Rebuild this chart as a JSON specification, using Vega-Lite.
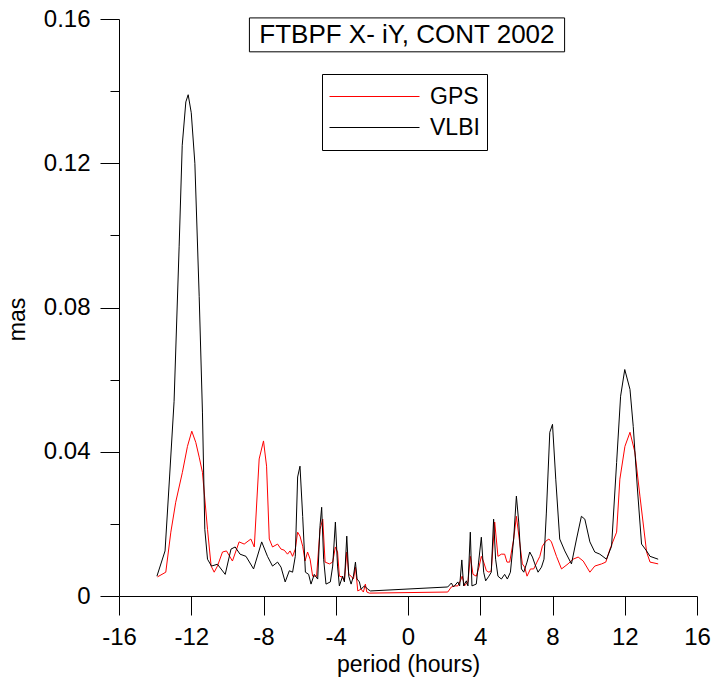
{
  "$schema": "https://vega.github.io/schema/vega-lite/v6.json",
  "autosize": "none",
  "width": 578,
  "height": 577,
  "padding": {"left": 119, "top": 19, "right": 19, "bottom": 88},
  "background": "white",
  "config": {
    "view": {"stroke": null},
    "font": "Liberation Sans",
    "axis": {
      "grid": false,
      "domainColor": "black",
      "domainWidth": 1,
      "tickColor": "black",
      "tickWidth": 1,
      "labelFont": "Liberation Sans",
      "labelFontSize": 24,
      "labelColor": "black",
      "titleFont": "Liberation Sans",
      "titleFontSize": 23,
      "titleFontWeight": "normal",
      "titleColor": "black"
    }
  },
  "datasets": {
    "series": [
      {"p": -13.87, "v": 0.0053, "s": "GPS"},
      {"p": -13.41, "v": 0.0066, "s": "GPS"},
      {"p": -13.13, "v": 0.0177, "s": "GPS"},
      {"p": -12.86, "v": 0.026, "s": "GPS"},
      {"p": -12.49, "v": 0.0343, "s": "GPS"},
      {"p": -12.21, "v": 0.0415, "s": "GPS"},
      {"p": -11.97, "v": 0.0457, "s": "GPS"},
      {"p": -11.75, "v": 0.0426, "s": "GPS"},
      {"p": -11.56, "v": 0.0385, "s": "GPS"},
      {"p": -11.38, "v": 0.0343, "s": "GPS"},
      {"p": -11.1, "v": 0.0185, "s": "GPS"},
      {"p": -10.9, "v": 0.0083, "s": "GPS"},
      {"p": -10.73, "v": 0.0066, "s": "GPS"},
      {"p": -10.55, "v": 0.0083, "s": "GPS"},
      {"p": -10.27, "v": 0.0122, "s": "GPS"},
      {"p": -10.05, "v": 0.0125, "s": "GPS"},
      {"p": -9.72, "v": 0.0097, "s": "GPS"},
      {"p": -9.35, "v": 0.015, "s": "GPS"},
      {"p": -9.07, "v": 0.0144, "s": "GPS"},
      {"p": -8.7, "v": 0.0158, "s": "GPS"},
      {"p": -8.51, "v": 0.0136, "s": "GPS"},
      {"p": -8.24, "v": 0.038, "s": "GPS"},
      {"p": -8.0, "v": 0.043, "s": "GPS"},
      {"p": -7.83, "v": 0.036, "s": "GPS"},
      {"p": -7.68, "v": 0.0158, "s": "GPS"},
      {"p": -7.5, "v": 0.0136, "s": "GPS"},
      {"p": -7.22, "v": 0.0144, "s": "GPS"},
      {"p": -7.03, "v": 0.013, "s": "GPS"},
      {"p": -6.85, "v": 0.0127, "s": "GPS"},
      {"p": -6.67, "v": 0.0116, "s": "GPS"},
      {"p": -6.53, "v": 0.0125, "s": "GPS"},
      {"p": -6.39, "v": 0.011, "s": "GPS"},
      {"p": -6.24, "v": 0.013, "s": "GPS"},
      {"p": -6.11, "v": 0.0177, "s": "GPS"},
      {"p": -5.98, "v": 0.0166, "s": "GPS"},
      {"p": -5.83, "v": 0.0138, "s": "GPS"},
      {"p": -5.7, "v": 0.0097, "s": "GPS"},
      {"p": -5.56, "v": 0.0122, "s": "GPS"},
      {"p": -5.42, "v": 0.0102, "s": "GPS"},
      {"p": -5.28, "v": 0.0055, "s": "GPS"},
      {"p": -5.06, "v": 0.0055, "s": "GPS"},
      {"p": -4.87, "v": 0.0185, "s": "GPS"},
      {"p": -4.72, "v": 0.0213, "s": "GPS"},
      {"p": -4.59, "v": 0.0094, "s": "GPS"},
      {"p": -4.35, "v": 0.0089, "s": "GPS"},
      {"p": -4.17, "v": 0.0094, "s": "GPS"},
      {"p": -4.02, "v": 0.0136, "s": "GPS"},
      {"p": -3.9, "v": 0.0122, "s": "GPS"},
      {"p": -3.8, "v": 0.0055, "s": "GPS"},
      {"p": -3.65, "v": 0.0053, "s": "GPS"},
      {"p": -3.52, "v": 0.0042, "s": "GPS"},
      {"p": -3.39, "v": 0.0122, "s": "GPS"},
      {"p": -3.28, "v": 0.006, "s": "GPS"},
      {"p": -3.15, "v": 0.0055, "s": "GPS"},
      {"p": -3.02, "v": 0.0047, "s": "GPS"},
      {"p": -2.91, "v": 0.008, "s": "GPS"},
      {"p": -2.78, "v": 0.0014, "s": "GPS"},
      {"p": -2.6, "v": 0.0019, "s": "GPS"},
      {"p": -2.47, "v": 0.0011, "s": "GPS"},
      {"p": -2.36, "v": 0.0033, "s": "GPS"},
      {"p": -2.28, "v": 0.0011, "s": "GPS"},
      {"p": -2.14, "v": 0.0008, "s": "GPS"},
      {"p": 2.2, "v": 0.0011, "s": "GPS"},
      {"p": 2.4, "v": 0.0025, "s": "GPS"},
      {"p": 2.58, "v": 0.0028, "s": "GPS"},
      {"p": 2.76, "v": 0.0028, "s": "GPS"},
      {"p": 2.9, "v": 0.0042, "s": "GPS"},
      {"p": 3.0, "v": 0.0055, "s": "GPS"},
      {"p": 3.13, "v": 0.0028, "s": "GPS"},
      {"p": 3.32, "v": 0.0039, "s": "GPS"},
      {"p": 3.45, "v": 0.011, "s": "GPS"},
      {"p": 3.6, "v": 0.006, "s": "GPS"},
      {"p": 3.78, "v": 0.0055, "s": "GPS"},
      {"p": 3.93, "v": 0.008, "s": "GPS"},
      {"p": 4.06, "v": 0.011, "s": "GPS"},
      {"p": 4.19, "v": 0.0094, "s": "GPS"},
      {"p": 4.34, "v": 0.007, "s": "GPS"},
      {"p": 4.48, "v": 0.0066, "s": "GPS"},
      {"p": 4.61, "v": 0.007, "s": "GPS"},
      {"p": 4.8, "v": 0.0205, "s": "GPS"},
      {"p": 4.98, "v": 0.011, "s": "GPS"},
      {"p": 5.17, "v": 0.0116, "s": "GPS"},
      {"p": 5.35, "v": 0.0116, "s": "GPS"},
      {"p": 5.48, "v": 0.0094, "s": "GPS"},
      {"p": 5.63, "v": 0.0094, "s": "GPS"},
      {"p": 5.85, "v": 0.0158, "s": "GPS"},
      {"p": 6.0, "v": 0.0221, "s": "GPS"},
      {"p": 6.18, "v": 0.015, "s": "GPS"},
      {"p": 6.33, "v": 0.0089, "s": "GPS"},
      {"p": 6.46, "v": 0.008, "s": "GPS"},
      {"p": 6.59, "v": 0.0055, "s": "GPS"},
      {"p": 6.78, "v": 0.0075, "s": "GPS"},
      {"p": 6.96, "v": 0.0075, "s": "GPS"},
      {"p": 7.14, "v": 0.0094, "s": "GPS"},
      {"p": 7.3, "v": 0.011, "s": "GPS"},
      {"p": 7.44, "v": 0.0138, "s": "GPS"},
      {"p": 7.63, "v": 0.0152, "s": "GPS"},
      {"p": 7.8, "v": 0.0158, "s": "GPS"},
      {"p": 7.94, "v": 0.015, "s": "GPS"},
      {"p": 8.22, "v": 0.011, "s": "GPS"},
      {"p": 8.5, "v": 0.0075, "s": "GPS"},
      {"p": 8.86, "v": 0.0089, "s": "GPS"},
      {"p": 9.14, "v": 0.0102, "s": "GPS"},
      {"p": 9.42, "v": 0.0108, "s": "GPS"},
      {"p": 9.7, "v": 0.0097, "s": "GPS"},
      {"p": 10.07, "v": 0.0066, "s": "GPS"},
      {"p": 10.34, "v": 0.0083, "s": "GPS"},
      {"p": 10.72, "v": 0.0089, "s": "GPS"},
      {"p": 10.95, "v": 0.0094, "s": "GPS"},
      {"p": 11.18, "v": 0.013, "s": "GPS"},
      {"p": 11.55, "v": 0.0177, "s": "GPS"},
      {"p": 11.73, "v": 0.0324, "s": "GPS"},
      {"p": 12.01, "v": 0.0415, "s": "GPS"},
      {"p": 12.29, "v": 0.0454, "s": "GPS"},
      {"p": 12.56, "v": 0.0399, "s": "GPS"},
      {"p": 12.84, "v": 0.0277, "s": "GPS"},
      {"p": 13.21, "v": 0.0122, "s": "GPS"},
      {"p": 13.4, "v": 0.0094, "s": "GPS"},
      {"p": 13.85, "v": 0.0089, "s": "GPS"},
      {"p": -13.9, "v": 0.0055, "s": "VLBI"},
      {"p": -13.45, "v": 0.0125, "s": "VLBI"},
      {"p": -13.2, "v": 0.033, "s": "VLBI"},
      {"p": -12.95, "v": 0.054, "s": "VLBI"},
      {"p": -12.67, "v": 0.097, "s": "VLBI"},
      {"p": -12.5, "v": 0.125, "s": "VLBI"},
      {"p": -12.3, "v": 0.137, "s": "VLBI"},
      {"p": -12.17, "v": 0.139, "s": "VLBI"},
      {"p": -12.0, "v": 0.134, "s": "VLBI"},
      {"p": -11.8, "v": 0.12, "s": "VLBI"},
      {"p": -11.56, "v": 0.083, "s": "VLBI"},
      {"p": -11.38, "v": 0.051, "s": "VLBI"},
      {"p": -11.25, "v": 0.0185, "s": "VLBI"},
      {"p": -11.1, "v": 0.0102, "s": "VLBI"},
      {"p": -10.88, "v": 0.0083, "s": "VLBI"},
      {"p": -10.55, "v": 0.0088, "s": "VLBI"},
      {"p": -10.12, "v": 0.006, "s": "VLBI"},
      {"p": -9.8, "v": 0.013, "s": "VLBI"},
      {"p": -9.57, "v": 0.0136, "s": "VLBI"},
      {"p": -9.3, "v": 0.0116, "s": "VLBI"},
      {"p": -8.97, "v": 0.011, "s": "VLBI"},
      {"p": -8.55, "v": 0.0075, "s": "VLBI"},
      {"p": -8.1, "v": 0.015, "s": "VLBI"},
      {"p": -7.78, "v": 0.011, "s": "VLBI"},
      {"p": -7.5, "v": 0.0083, "s": "VLBI"},
      {"p": -7.22, "v": 0.0094, "s": "VLBI"},
      {"p": -7.03, "v": 0.008, "s": "VLBI"},
      {"p": -6.8, "v": 0.0039, "s": "VLBI"},
      {"p": -6.57, "v": 0.007, "s": "VLBI"},
      {"p": -6.39, "v": 0.0066, "s": "VLBI"},
      {"p": -6.24, "v": 0.011, "s": "VLBI"},
      {"p": -6.11, "v": 0.033, "s": "VLBI"},
      {"p": -5.98, "v": 0.036, "s": "VLBI"},
      {"p": -5.83, "v": 0.022, "s": "VLBI"},
      {"p": -5.68, "v": 0.0066, "s": "VLBI"},
      {"p": -5.5, "v": 0.006, "s": "VLBI"},
      {"p": -5.37, "v": 0.0033, "s": "VLBI"},
      {"p": -5.19, "v": 0.006, "s": "VLBI"},
      {"p": -5.0, "v": 0.0047, "s": "VLBI"},
      {"p": -4.87, "v": 0.0195, "s": "VLBI"},
      {"p": -4.78, "v": 0.0246, "s": "VLBI"},
      {"p": -4.67, "v": 0.0102, "s": "VLBI"},
      {"p": -4.54, "v": 0.0033, "s": "VLBI"},
      {"p": -4.3, "v": 0.0039, "s": "VLBI"},
      {"p": -4.17, "v": 0.0083, "s": "VLBI"},
      {"p": -4.02, "v": 0.0205, "s": "VLBI"},
      {"p": -3.9, "v": 0.0083, "s": "VLBI"},
      {"p": -3.8, "v": 0.0028, "s": "VLBI"},
      {"p": -3.62, "v": 0.0055, "s": "VLBI"},
      {"p": -3.52, "v": 0.0039, "s": "VLBI"},
      {"p": -3.39, "v": 0.0166, "s": "VLBI"},
      {"p": -3.28, "v": 0.0055, "s": "VLBI"},
      {"p": -3.15, "v": 0.0033, "s": "VLBI"},
      {"p": -3.02, "v": 0.0055, "s": "VLBI"},
      {"p": -2.91, "v": 0.0094, "s": "VLBI"},
      {"p": -2.82, "v": 0.0047, "s": "VLBI"},
      {"p": -2.69, "v": 0.0039, "s": "VLBI"},
      {"p": -2.6, "v": 0.0019, "s": "VLBI"},
      {"p": -2.41, "v": 0.0028, "s": "VLBI"},
      {"p": -2.23, "v": 0.0019, "s": "VLBI"},
      {"p": -2.08, "v": 0.0014, "s": "VLBI"},
      {"p": 2.2, "v": 0.0025, "s": "VLBI"},
      {"p": 2.4, "v": 0.0036, "s": "VLBI"},
      {"p": 2.52, "v": 0.0025, "s": "VLBI"},
      {"p": 2.76, "v": 0.0039, "s": "VLBI"},
      {"p": 2.86, "v": 0.0028, "s": "VLBI"},
      {"p": 2.98, "v": 0.01, "s": "VLBI"},
      {"p": 3.08, "v": 0.0028, "s": "VLBI"},
      {"p": 3.23, "v": 0.0042, "s": "VLBI"},
      {"p": 3.32, "v": 0.0028, "s": "VLBI"},
      {"p": 3.45, "v": 0.0177, "s": "VLBI"},
      {"p": 3.54, "v": 0.0028, "s": "VLBI"},
      {"p": 3.78, "v": 0.0033, "s": "VLBI"},
      {"p": 3.91, "v": 0.0094, "s": "VLBI"},
      {"p": 4.06, "v": 0.0163, "s": "VLBI"},
      {"p": 4.19, "v": 0.0066, "s": "VLBI"},
      {"p": 4.3, "v": 0.0042, "s": "VLBI"},
      {"p": 4.48, "v": 0.0055, "s": "VLBI"},
      {"p": 4.61, "v": 0.0066, "s": "VLBI"},
      {"p": 4.74, "v": 0.0213, "s": "VLBI"},
      {"p": 4.85, "v": 0.0102, "s": "VLBI"},
      {"p": 4.98, "v": 0.0055, "s": "VLBI"},
      {"p": 5.17, "v": 0.0047, "s": "VLBI"},
      {"p": 5.35, "v": 0.006, "s": "VLBI"},
      {"p": 5.5, "v": 0.0047, "s": "VLBI"},
      {"p": 5.67, "v": 0.0066, "s": "VLBI"},
      {"p": 5.85, "v": 0.0158, "s": "VLBI"},
      {"p": 6.0, "v": 0.0277, "s": "VLBI"},
      {"p": 6.13, "v": 0.0205, "s": "VLBI"},
      {"p": 6.28, "v": 0.0075, "s": "VLBI"},
      {"p": 6.41, "v": 0.0066, "s": "VLBI"},
      {"p": 6.59, "v": 0.0094, "s": "VLBI"},
      {"p": 6.74, "v": 0.0122, "s": "VLBI"},
      {"p": 6.89, "v": 0.0108, "s": "VLBI"},
      {"p": 7.02, "v": 0.0089, "s": "VLBI"},
      {"p": 7.2, "v": 0.0066, "s": "VLBI"},
      {"p": 7.39, "v": 0.008, "s": "VLBI"},
      {"p": 7.53, "v": 0.0102, "s": "VLBI"},
      {"p": 7.66, "v": 0.023, "s": "VLBI"},
      {"p": 7.85, "v": 0.0454, "s": "VLBI"},
      {"p": 8.0, "v": 0.0476, "s": "VLBI"},
      {"p": 8.18, "v": 0.0324, "s": "VLBI"},
      {"p": 8.4, "v": 0.0158, "s": "VLBI"},
      {"p": 8.68, "v": 0.0125, "s": "VLBI"},
      {"p": 9.05, "v": 0.0089, "s": "VLBI"},
      {"p": 9.33, "v": 0.0158, "s": "VLBI"},
      {"p": 9.6, "v": 0.0221, "s": "VLBI"},
      {"p": 9.79, "v": 0.0213, "s": "VLBI"},
      {"p": 10.07, "v": 0.015, "s": "VLBI"},
      {"p": 10.34, "v": 0.0122, "s": "VLBI"},
      {"p": 10.62, "v": 0.0116, "s": "VLBI"},
      {"p": 10.99, "v": 0.0102, "s": "VLBI"},
      {"p": 11.27, "v": 0.0138, "s": "VLBI"},
      {"p": 11.55, "v": 0.037, "s": "VLBI"},
      {"p": 11.77, "v": 0.0554, "s": "VLBI"},
      {"p": 12.0, "v": 0.0628, "s": "VLBI"},
      {"p": 12.29, "v": 0.0573, "s": "VLBI"},
      {"p": 12.47, "v": 0.047, "s": "VLBI"},
      {"p": 12.69, "v": 0.0305, "s": "VLBI"},
      {"p": 12.93, "v": 0.0144, "s": "VLBI"},
      {"p": 13.21, "v": 0.0125, "s": "VLBI"},
      {"p": 13.4, "v": 0.011, "s": "VLBI"},
      {"p": 13.85, "v": 0.0102, "s": "VLBI"}
    ],
    "titlebox": [
      {"label": "FTBPF X- iY, CONT 2002"}
    ]
  },
  "layer": [
    {
      "data": {"name": "series"},
      "mark": {"type": "line", "strokeWidth": 1, "interpolate": "linear"},
      "encoding": {
        "x": {
          "field": "p",
          "type": "quantitative",
          "scale": {"domain": [-16, 16], "nice": false, "zero": false},
          "axis": {
            "title": "period (hours)",
            "values": [-16, -14, -12, -10, -8, -6, -4, -2, 0, 2, 4, 6, 8, 10, 12, 14, 16],
            "labelExpr": "datum.value % 4 === 0 ? '' + datum.value : ''",
            "tickSize": {"condition": {"test": "datum.value % 4 === 0", "value": 19}, "value": 9},
            "labelPadding": 10,
            "labelFlush": false,
            "labelOverlap": false,
            "titleX": 289,
            "titleY": 68,
            "titleBaseline": "middle",
            "titleAlign": "center"
          }
        },
        "y": {
          "field": "v",
          "type": "quantitative",
          "scale": {"domain": [0, 0.16], "nice": false},
          "axis": {
            "title": "mas",
            "values": [0, 0.02, 0.04, 0.06, 0.08, 0.1, 0.12, 0.14, 0.16],
            "labelExpr": "round(datum.value * 100) % 4 === 0 ? (datum.value === 0 ? '0' : format(datum.value, '.2f')) : ''",
            "tickSize": {"condition": {"test": "round(datum.value * 100) % 4 === 0", "value": 19}, "value": 9},
            "labelPadding": 10,
            "labelFlush": false,
            "labelOverlap": false,
            "titleX": -102,
            "titleY": 300,
            "titleBaseline": "middle",
            "titleAlign": "center"
          }
        },
        "color": {
          "field": "s",
          "type": "nominal",
          "scale": {"domain": ["GPS", "VLBI"], "range": ["#ff0000", "#000000"]},
          "legend": {
            "title": null,
            "orient": "none",
            "legendX": 203,
            "legendY": 55,
            "symbolType": "stroke",
            "symbolSize": 8100,
            "symbolStrokeWidth": 1,
            "clipHeight": 31,
            "rowPadding": 0,
            "labelFont": "Liberation Sans",
            "labelFontSize": 23,
            "labelColor": "black",
            "labelOffset": 10,
            "padding": 7,
            "strokeColor": "black",
            "fillColor": "white"
          }
        }
      }
    },
    {
      "data": {"name": "titlebox"},
      "mark": {"type": "rect", "fill": "white", "stroke": "black", "strokeWidth": 1},
      "encoding": {
        "x": {"datum": -8.78, "type": "quantitative"},
        "x2": {"datum": 8.67},
        "y": {"datum": 0.1603, "type": "quantitative"},
        "y2": {"datum": 0.1509}
      }
    },
    {
      "data": {"name": "titlebox"},
      "mark": {"type": "text", "font": "Liberation Sans", "fontSize": 26, "color": "black", "align": "center", "baseline": "middle"},
      "encoding": {
        "x": {"datum": -0.06, "type": "quantitative"},
        "y": {"datum": 0.1555, "type": "quantitative"},
        "text": {"field": "label", "type": "nominal"}
      }
    }
  ]
}
